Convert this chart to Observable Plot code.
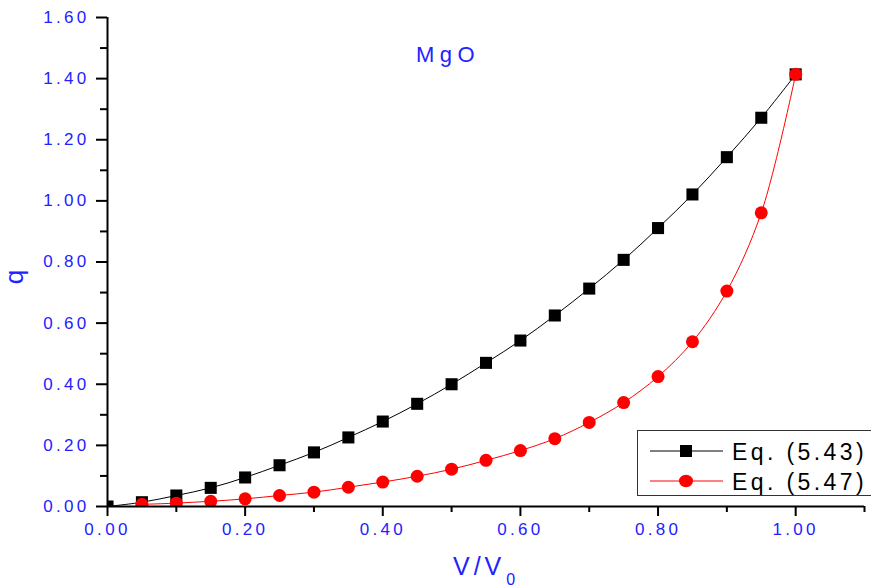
<!DOCTYPE html>
<html><head><meta charset="utf-8">
<script src="https://cdn.jsdelivr.net/npm/d3@7"></script>
<script src="https://cdn.jsdelivr.net/npm/@observablehq/plot@0.6"></script>
<style>
body{margin:0;background:#fff}
#chart{position:relative;width:871px;height:587px;overflow:hidden}
</style>
</head><body><div id="chart"></div>
<script>
// ---- data ----
const vRatio = [0.00,0.05,0.10,0.15,0.20,0.25,0.30,0.35,0.40,0.45,0.50,0.55,0.60,0.65,0.70,0.75,0.80,0.85,0.90,0.95,1.00];
const qEq543 = [0.000,0.014,0.036,0.061,0.095,0.135,0.177,0.226,0.278,0.336,0.400,0.470,0.543,0.625,0.713,0.807,0.911,1.021,1.143,1.272,1.414];
const vRatio547 = [0.05,0.10,0.15,0.20,0.25,0.30,0.35,0.40,0.45,0.50,0.55,0.60,0.65,0.70,0.75,0.80,0.85,0.90,0.95,1.00];
const qEq547 = [0.007,0.011,0.017,0.025,0.036,0.047,0.063,0.080,0.099,0.122,0.151,0.183,0.222,0.275,0.340,0.425,0.539,0.705,0.961,1.414];
const seriesNames = ["Eq. (5.43)", "Eq. (5.47)"];
const chartTitle = "MgO";
const xMajorTicks = [0,0.2,0.4,0.6,0.8,1.0];
const xMinorTicks = [0.1,0.3,0.5,0.7,0.9,1.1];
const yMajorTicks = [0,0.2,0.4,0.6,0.8,1.0,1.2,1.4,1.6];
const yMinorTicks = [0.1,0.3,0.5,0.7,0.9,1.1,1.3,1.5];

const blue = "#2222ff";
const font = "'Liberation Sans', Arial, sans-serif";

const d543 = vRatio.map((v,i)=>({v, q:qEq543[i]}));
const d547 = vRatio547.map((v,i)=>({v, q:qEq547[i]}));
const fmt = d3.format(".2f");

const plot = Plot.plot({
  width: 871, height: 587,
  marginLeft: 107, marginRight: 7, marginTop: 17, marginBottom: 81,
  x: {domain: [0, 1.1]},
  y: {domain: [0, 1.6]},
  style: {fontFamily: font, fontSize: "17px", background: "#fff", overflow: "visible"},
  marks: [
    Plot.axisX({ticks: xMajorTicks, tickSize: 10, tickPadding: 6, tickFormat: fmt, label: null, stroke: "black", strokeWidth: 2, fill: blue}),
    Plot.axisX({ticks: xMinorTicks, tickSize: 6, tickFormat: null, text: null, label: null, stroke: "black", strokeWidth: 2}),
    Plot.axisY({ticks: yMajorTicks, tickSize: 11, tickPadding: 7, tickFormat: fmt, label: null, stroke: "black", strokeWidth: 2, fill: blue}),
    Plot.axisY({ticks: yMinorTicks, tickSize: 7, tickFormat: null, text: null, label: null, stroke: "black", strokeWidth: 2}),
    Plot.line(d543, {x: "v", y: "q", stroke: "black", strokeWidth: 1, curve: "catmull-rom", clip: true}),
    Plot.dot(d543, {x: "v", y: "q", symbol: "square", r: 6.8, fill: "black", stroke: "none", clip: true}),
    Plot.line(d547, {x: "v", y: "q", stroke: "#ff0000", strokeWidth: 1, curve: "catmull-rom", clip: true}),
    Plot.dot(d547, {x: "v", y: "q", symbol: "circle", r: 6.5, fill: "#ff0000", stroke: "none", clip: true}),
    Plot.ruleX([0], {stroke: "black", strokeWidth: 2}),
    Plot.ruleY([0], {stroke: "black", strokeWidth: 2})
  ]
});

const svg = d3.select(plot);
svg.selectAll("g[aria-label$='tick label']").attr("fill", blue).style("letter-spacing", "3.3px");

// title
svg.append("text").attr("x", 416).attr("y", 62).attr("text-anchor", "start")
  .attr("font-family", font).attr("font-size", 22).attr("fill", blue)
  .style("letter-spacing", "5.5px").text(chartTitle);

// x label
const xl = svg.append("text").attr("x", 453).attr("y", 575).attr("text-anchor", "start")
  .attr("font-family", font).attr("font-size", 25).attr("fill", blue)
  .style("letter-spacing", "4px");
xl.append("tspan").text("V/V");
xl.append("tspan").attr("font-size", 16).attr("dy", 10).attr("dx", 1).text("0");

// y label
svg.append("text").attr("transform", "translate(23,277) rotate(-90)")
  .attr("text-anchor", "middle")
  .attr("font-family", font).attr("font-size", 26).attr("fill", blue).text("q");

// legend
const lg = svg.append("g");
lg.append("rect").attr("x", 637.5).attr("y", 430.5).attr("width", 260).attr("height", 65)
  .attr("fill", "white").attr("stroke", "#333").attr("stroke-width", 1);
const rows = [
  {name: seriesNames[0], color: "black", sym: "square", y: 451},
  {name: seriesNames[1], color: "#ff0000", sym: "circle", y: 481}
];
rows.forEach(r => {
  lg.append("line").attr("x1", 650).attr("x2", 723).attr("y1", r.y).attr("y2", r.y)
    .attr("stroke", r.color).attr("stroke-width", 1);
  if (r.sym === "square") {
    lg.append("rect").attr("x", 680).attr("y", r.y - 6).attr("width", 12).attr("height", 12).attr("fill", r.color);
  } else {
    lg.append("ellipse").attr("cx", 686).attr("cy", r.y).attr("rx", 7).attr("ry", 6.2).attr("fill", r.color);
  }
  lg.append("text").attr("x", 732).attr("y", r.y + 8.5).attr("text-anchor", "start")
    .attr("font-family", font).attr("font-size", 23).attr("fill", "black")
    .style("letter-spacing", "3.4px").text(r.name);
});

document.getElementById("chart").appendChild(plot);
</script>
</body></html>
